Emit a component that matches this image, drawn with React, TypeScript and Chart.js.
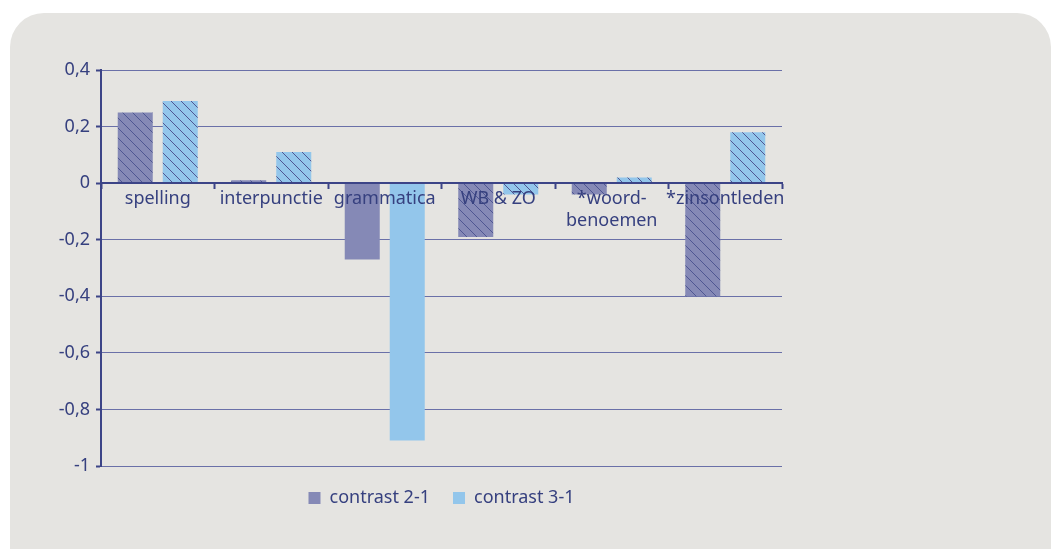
import React, { useEffect, useRef } from "react";
import { Chart, registerables } from "chart.js";

Chart.register(...registerables);

const CATEGORIES: (string | string[])[] = [
  "spelling",
  "interpunctie",
  "grammatica",
  "WB & ZO",
  ["*woord-", "benoemen"],
  "*zinsontleden",
];
const SERIES_NAMES = ["contrast 2-1", "contrast 3-1"];
const CONTRAST_2_1 = [0.25, 0.01, -0.27, -0.19, -0.04, -0.4];
const CONTRAST_3_1 = [0.29, 0.11, -0.91, -0.04, 0.02, 0.18];
const HATCHED = [true, true, false, true, true, true];
const Y_TICK_VALUES = [0.4, 0.2, 0, -0.2, -0.4, -0.6, -0.8, -1];
const Y_TICK_LABELS = ["0,4", "0,2", "0", "-0,2", "-0,4", "-0,6", "-0,8", "-1"];

const DARK = "#8589b6";
const LIGHT = "#93c6eb";
const HATCH = "#4f5692";
const TEXT = "#36407f";
const AXIS = "#3c4487";
const GRID = "#6a70a8";
const FONT = "'Noto Sans', sans-serif";

function makeHatch(color: string): CanvasPattern | string {
  const size = 10;
  const c = document.createElement("canvas");
  c.width = size;
  c.height = size;
  const ctx = c.getContext("2d");
  if (!ctx) return color;
  ctx.fillStyle = color;
  ctx.fillRect(0, 0, size, size);
  ctx.strokeStyle = HATCH;
  ctx.lineWidth = 1;
  ctx.beginPath();
  ctx.moveTo(-1, -1);
  ctx.lineTo(size + 1, size + 1);
  ctx.moveTo(-1, size - 1);
  ctx.lineTo(1, size + 1);
  ctx.moveTo(size - 1, -1);
  ctx.lineTo(size + 1, 1);
  ctx.stroke();
  const p = ctx.createPattern(c, "repeat");
  return p || color;
}

export default function App() {
  const canvasRef = useRef<HTMLCanvasElement | null>(null);

  useEffect(() => {
    const canvas = canvasRef.current;
    if (!canvas) return;
    const darkHatch = makeHatch(DARK);
    const lightHatch = makeHatch(LIGHT);
    const solidColors = [DARK, LIGHT];

    const chart = new Chart(canvas, {
      type: "bar",
      data: {
        labels: CATEGORIES,
        datasets: [
          {
            label: SERIES_NAMES[0],
            data: CONTRAST_2_1,
            backgroundColor: HATCHED.map((h) => (h ? darkHatch : DARK)),
            borderWidth: 0,
            barPercentage: 0.778,
            categoryPercentage: 0.793,
          },
          {
            label: SERIES_NAMES[1],
            data: CONTRAST_3_1,
            backgroundColor: HATCHED.map((h) => (h ? lightHatch : LIGHT)),
            borderWidth: 0,
            barPercentage: 0.778,
            categoryPercentage: 0.793,
          },
        ],
      },
      options: {
        animation: false,
        responsive: false,
        maintainAspectRatio: false,
        layout: { padding: { top: 30, left: 0, right: 38, bottom: 0 } },
        plugins: {
          tooltip: { enabled: false },
          legend: {
            position: "bottom",
            fullSize: false,
            labels: {
              boxWidth: 12,
              boxHeight: 12,
              padding: 23,
              color: TEXT,
              font: { family: FONT, size: 18 },
              generateLabels: (ch: any) => {
                const items = Chart.defaults.plugins.legend.labels.generateLabels(ch);
                return items.map((it: any, i: number) => ({
                  ...it,
                  fillStyle: solidColors[i],
                  strokeStyle: "rgba(0,0,0,0)",
                  lineWidth: 0,
                }));
              },
            },
          },
        },
        scales: {
          x: {
            position: { y: 0 } as any,
            offset: true,
            grid: {
              display: true,
              drawOnChartArea: false,
              drawTicks: true,
              tickLength: 5,
              tickWidth: 2,
              tickColor: AXIS,
              offset: true,
              z: 1,
            },
            border: { display: true, color: AXIS, width: 2, z: 1 },
            ticks: {
              color: TEXT,
              font: { family: FONT, size: 18, lineHeight: 1.2 },
              padding: 0,
              autoSkip: false,
              maxRotation: 0,
              minRotation: 0,
              z: 1,
            },
          },
          y: {
            min: -1,
            max: 0.4,
            afterFit: (scale: any) => {
              scale.width = 81;
            },
            afterBuildTicks: (scale: any) => {
              scale.ticks = Y_TICK_VALUES.map((v) => ({ value: v }));
            },
            grid: {
              color: GRID,
              lineWidth: 1,
              drawTicks: true,
              tickLength: 5,
              tickWidth: 2,
              tickColor: AXIS,
            },
            border: { display: true, color: AXIS, width: 2 },
            ticks: {
              color: TEXT,
              font: { family: FONT, size: 18 },
              padding: 6,
              callback: (value: any) => {
                const idx = Y_TICK_VALUES.findIndex((v) => Math.abs(v - Number(value)) < 1e-6);
                return idx >= 0 ? Y_TICK_LABELS[idx] : "";
              },
            },
          },
        },
      },
    });
    return () => chart.destroy();
  }, []);

  return (
    <div
      style={{
        position: "fixed",
        left: 0,
        top: 0,
        width: 1051,
        height: 549,
        background: "#ffffff",
        overflow: "hidden",
      }}
    >
      <div
        style={{
          position: "absolute",
          left: 10,
          top: 13,
          width: 1041,
          height: 600,
          background: "#e5e4e1",
          borderTopLeftRadius: 34,
          borderTopRightRadius: 34,
        }}
      />
      <canvas
        ref={canvasRef}
        width={800}
        height={477}
        style={{ position: "absolute", left: 20, top: 40, width: 800, height: 477 }}
      />
    </div>
  );
}
